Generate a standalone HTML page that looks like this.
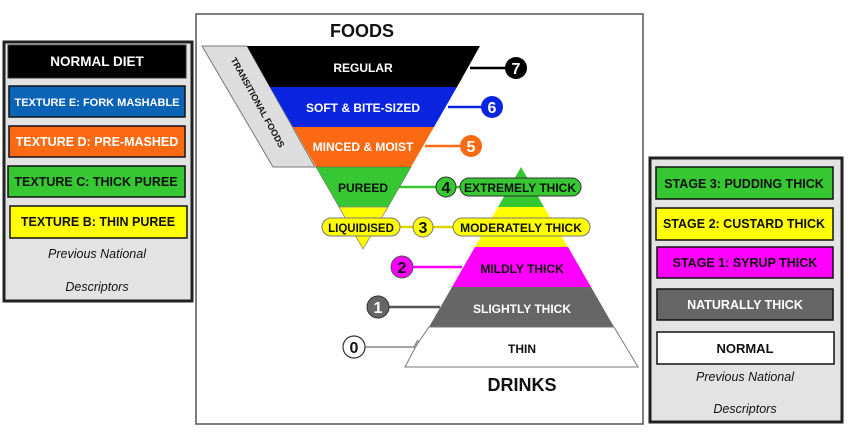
<!DOCTYPE html>
<html><head><meta charset="utf-8"><style>
body{margin:0;background:#fff;width:850px;height:434px;overflow:hidden}
svg text{font-family:"Liberation Sans",sans-serif;font-weight:bold}
</style></head><body>
<svg width="850" height="434" viewBox="0 0 850 434" xmlns="http://www.w3.org/2000/svg">
<!-- left panel -->
<rect x="4" y="42" width="188" height="259" fill="#e3e3e3" stroke="#222" stroke-width="3"/>
<rect x="8" y="45" width="178" height="33" fill="#000" stroke="#333"/>
<text x="97" y="66" fill="#fff" font-size="13.5" text-anchor="middle">NORMAL DIET</text>
<rect x="9" y="86" width="176" height="31" fill="#0a63b4" stroke="#111" stroke-width="1.5"/>
<text x="97" y="106" fill="#fff" font-size="11" text-anchor="middle">TEXTURE E: FORK MASHABLE</text>
<rect x="9" y="126" width="176" height="31" fill="#fb6a12" stroke="#111" stroke-width="1.5"/>
<text x="97" y="146" fill="#fff" font-size="12.5" text-anchor="middle">TEXTURE D: PRE-MASHED</text>
<rect x="8" y="166" width="177" height="31" fill="#37c733" stroke="#111" stroke-width="1.5"/>
<text x="96" y="186" fill="#111" font-size="12.5" text-anchor="middle">TEXTURE C: THICK PUREE</text>
<rect x="10" y="206" width="177" height="32" fill="#ffff00" stroke="#111" stroke-width="1.5"/>
<text x="98" y="226" fill="#111" font-size="12.5" text-anchor="middle">TEXTURE B: THIN PUREE</text>
<text x="97" y="258" fill="#111" font-size="12.5" font-style="italic" text-anchor="middle" style="font-weight:normal">Previous National</text>
<text x="97" y="291" fill="#111" font-size="12.5" font-style="italic" text-anchor="middle" style="font-weight:normal">Descriptors</text>

<!-- right panel -->
<rect x="650" y="158" width="192" height="264" fill="#e3e3e3" stroke="#222" stroke-width="3"/>
<rect x="656" y="167" width="177" height="32" fill="#37c733" stroke="#111" stroke-width="1.5"/>
<text x="744" y="188" fill="#111" font-size="12.5" text-anchor="middle">STAGE 3: PUDDING THICK</text>
<rect x="656" y="208" width="177" height="32" fill="#ffff00" stroke="#111" stroke-width="1.5"/>
<text x="744" y="228" fill="#111" font-size="12.5" text-anchor="middle">STAGE 2: CUSTARD THICK</text>
<rect x="657" y="247" width="176" height="31" fill="#ff00ff" stroke="#111" stroke-width="1.5"/>
<text x="745" y="267" fill="#111" font-size="12.5" text-anchor="middle">STAGE 1: SYRUP THICK</text>
<rect x="657" y="289" width="176" height="31" fill="#666" stroke="#111" stroke-width="1.5"/>
<text x="745" y="309" fill="#fff" font-size="12.5" text-anchor="middle">NATURALLY THICK</text>
<rect x="657" y="332" width="177" height="32" fill="#fff" stroke="#111" stroke-width="1.5"/>
<text x="745" y="353" fill="#111" font-size="13" text-anchor="middle">NORMAL</text>
<text x="745" y="381" fill="#111" font-size="12.5" font-style="italic" text-anchor="middle" style="font-weight:normal">Previous National</text>
<text x="745" y="413" fill="#111" font-size="12.5" font-style="italic" text-anchor="middle" style="font-weight:normal">Descriptors</text>

<!-- center frame -->
<rect x="196" y="14" width="447" height="410" fill="#fff" stroke="#555" stroke-width="1.5"/>
<text x="362" y="37" font-size="18" text-anchor="middle" fill="#111">FOODS</text>
<text x="522" y="391" font-size="18" text-anchor="middle" fill="#111">DRINKS</text>

<!-- transitional -->
<polygon points="202,46 247,46 315,167 273,167" fill="#ddd" stroke="#777"/>
<text transform="translate(255,104) rotate(61)" font-size="9" text-anchor="middle" fill="#111">TRANSITIONAL FOODS</text>

<!-- connectors -->
<g stroke-width="2.5">
<line x1="470" y1="68" x2="516" y2="68" stroke="#000"/>
<line x1="448" y1="107" x2="492" y2="107" stroke="#0a24e0"/>
<line x1="425" y1="146" x2="471" y2="146" stroke="#fb6a12"/>
<line x1="395" y1="187" x2="462" y2="187" stroke="#37c733"/>
<line x1="398" y1="227" x2="455" y2="227" stroke="#d8d800"/>
<line x1="402" y1="267" x2="462" y2="267" stroke="#ff00ff"/>
<line x1="378" y1="307" x2="440" y2="307" stroke="#555"/>
<polyline points="354,347 414,347 418,340" fill="none" stroke="#888" stroke-width="1.5"/>
</g>

<!-- foods triangle -->
<polygon points="247,46 480,46 457,87 270,87" fill="#000"/>
<polygon points="270,87 457,87 434,127 293,127" fill="#0a24e0"/>
<polygon points="293,127 434,127 411,167 316,167" fill="#fb6a12"/>
<polygon points="316,167 411,167 388,207 339,207" fill="#37c733" stroke="#555" stroke-width="0.5"/>
<polygon points="339,207 388,207 363,249" fill="#ffff00" stroke="#888" stroke-width="0.8"/>
<text x="363" y="72" font-size="12" text-anchor="middle" fill="#fff">REGULAR</text>
<text x="363" y="112" font-size="12" text-anchor="middle" fill="#fff">SOFT &amp; BITE-SIZED</text>
<text x="363" y="151" font-size="12" text-anchor="middle" fill="#fff">MINCED &amp; MOIST</text>
<text x="363" y="192" font-size="12" text-anchor="middle" fill="#111">PUREED</text>

<!-- drinks triangle -->
<polygon points="521,167 544,207 498,207" fill="#37c733"/>
<polygon points="498,207 544,207 568,247 475,247" fill="#ffff00"/>
<polygon points="475,247 568,247 591,287 452,287" fill="#ff00ff"/>
<polygon points="452,287 591,287 614,327 429,327" fill="#666"/>
<polygon points="429,327 614,327 638,367 405,367 415,348 420,340" fill="#fff" stroke="#777" stroke-width="1"/>
<text x="522" y="273" font-size="12" text-anchor="middle" fill="#111">MILDLY THICK</text>
<text x="522" y="313" font-size="12" text-anchor="middle" fill="#fff">SLIGHTLY THICK</text>
<text x="522" y="353" font-size="12" text-anchor="middle" fill="#111">THIN</text>

<!-- pills -->
<rect x="460" y="178" width="121" height="18" rx="9" fill="#37c733" stroke="#333" stroke-width="1"/>
<text x="520" y="192" font-size="12" text-anchor="middle" fill="#111">EXTREMELY THICK</text>
<rect x="453" y="218" width="137" height="18" rx="9" fill="#ffff00" stroke="#777" stroke-width="1"/>
<text x="521" y="232" font-size="12" text-anchor="middle" fill="#111">MODERATELY THICK</text>
<rect x="322" y="218" width="78" height="18" rx="9" fill="#ffff00" stroke="#777" stroke-width="1"/>
<text x="361" y="232" font-size="11.5" text-anchor="middle" fill="#111">LIQUIDISED</text>

<!-- circles -->
<circle cx="516" cy="68" r="11" fill="#000"/><text x="516" y="74" font-size="16" text-anchor="middle" fill="#fff">7</text>
<circle cx="492" cy="107" r="11" fill="#0a24e0"/><text x="492" y="113" font-size="16" text-anchor="middle" fill="#fff">6</text>
<circle cx="471" cy="146" r="11" fill="#fb6a12"/><text x="471" y="152" font-size="16" text-anchor="middle" fill="#fff">5</text>
<circle cx="446" cy="187" r="10" fill="#37c733" stroke="#333" stroke-width="1"/><text x="446" y="193" font-size="16" text-anchor="middle" fill="#111">4</text>
<circle cx="423" cy="227" r="10" fill="#ffff00" stroke="#777" stroke-width="1"/><text x="423" y="233" font-size="16" text-anchor="middle" fill="#111">3</text>
<circle cx="402" cy="267" r="11" fill="#ff00ff" stroke="#555" stroke-width="1"/><text x="402" y="273" font-size="16" text-anchor="middle" fill="#111">2</text>
<circle cx="378" cy="307" r="11" fill="#666" stroke="#333" stroke-width="1"/><text x="378" y="313" font-size="16" text-anchor="middle" fill="#fff">1</text>
<circle cx="354" cy="347" r="11" fill="#fff" stroke="#333" stroke-width="1.2"/><text x="354" y="353" font-size="16" text-anchor="middle" fill="#111">0</text>
</svg>
</body></html>
